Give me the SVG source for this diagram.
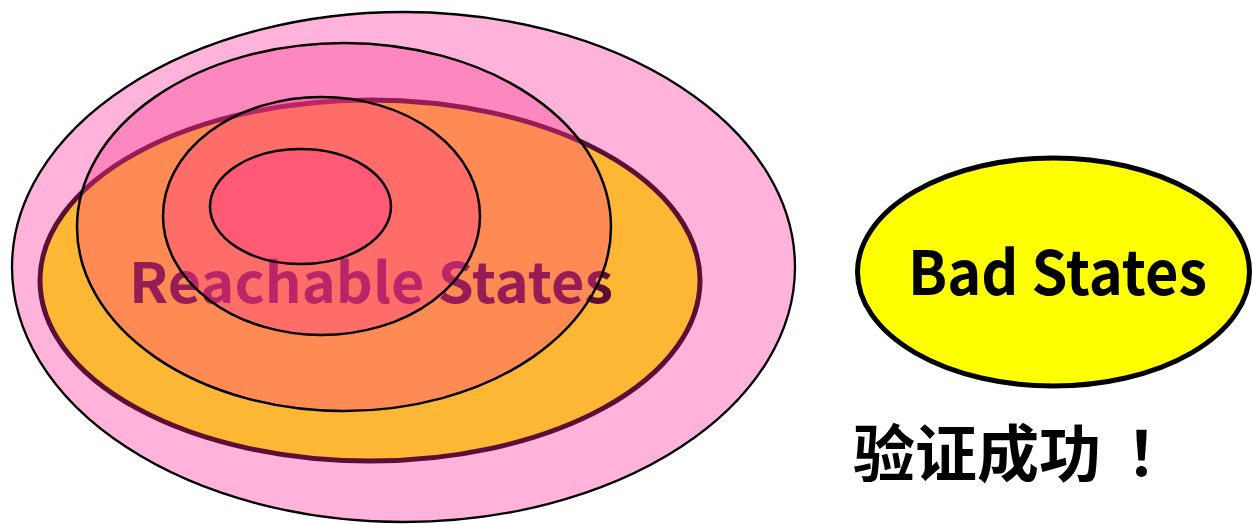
<svg xmlns="http://www.w3.org/2000/svg" width="1253" height="524" viewBox="0 0 1253 524">
<style>
.ring{fill:#FF3790;fill-opacity:0.35;stroke:#000;stroke-width:2.5}
.lbl{font-family:"Noto Sans CJK SC","Noto Sans",sans-serif}
</style>
<rect width="1253" height="524" fill="#fff"/>
<g id="universe"><ellipse cx="403.5" cy="267" rx="391.5" ry="255" fill="#FFB3DA" stroke="#000" stroke-width="2.3"/></g>
<g id="reachable">
<ellipse cx="370" cy="280.5" rx="330" ry="180.5" fill="#FDB735" stroke="#5C0F35" stroke-width="5"/>
<text class="lbl" x="129" y="303" font-size="56" font-weight="bold" fill="#5C0F35" textLength="484" lengthAdjust="spacingAndGlyphs">Reachable States</text>
</g>
<g id="r2"><ellipse class="ring" cx="344" cy="227" rx="267" ry="184"/></g>
<g id="r1"><ellipse class="ring" cx="321.5" cy="216" rx="158.5" ry="119"/></g>
<g id="r0"><ellipse class="ring" cx="300.5" cy="206.5" rx="90.5" ry="57.5"/></g>
<g id="bad">
<ellipse cx="1053.5" cy="272" rx="196" ry="114" fill="#FFFF00" stroke="#000" stroke-width="5"/>
<text class="lbl" x="908" y="295" font-size="61" font-weight="bold" fill="#000" textLength="299" lengthAdjust="spacingAndGlyphs">Bad States</text>
</g>
<g id="result"><text class="lbl" x="853" y="477" font-size="62" font-weight="bold" fill="#000">验证成功<tspan x="1126">！</tspan></text></g>
<g id="connectors"></g>
</svg>
